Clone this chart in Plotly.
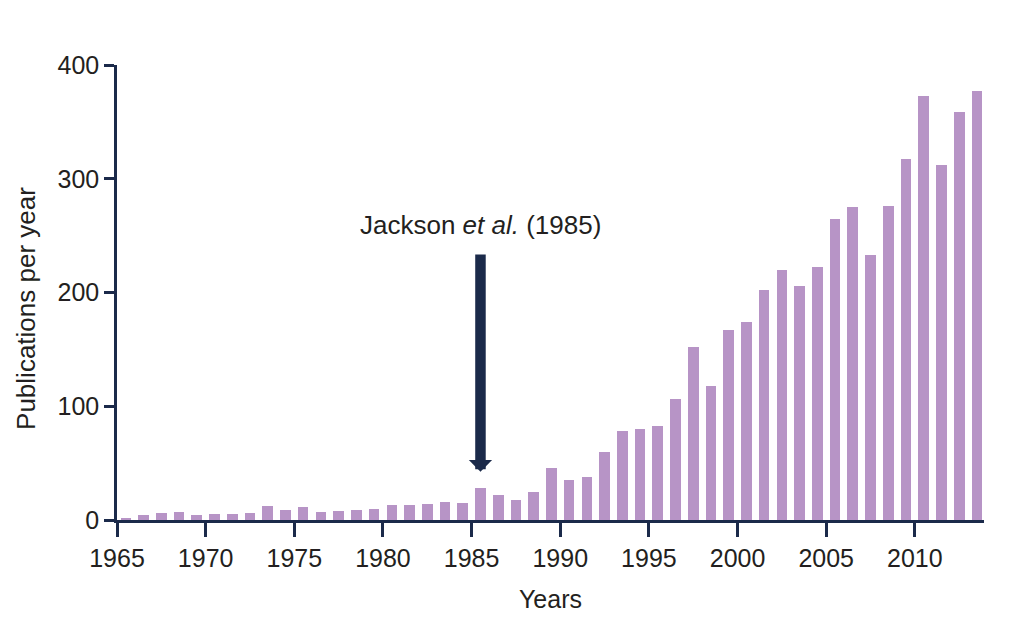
import plotly.graph_objects as go

years = list(range(1965, 2014))
publications = [2, 4, 6, 7, 4, 5, 5, 6, 12, 9,
                 11, 7, 8, 9, 10, 13, 13, 14, 16, 15,
                 28, 22, 18, 25, 46, 35, 38, 60, 78, 80,
                 83, 106, 152, 118, 167, 174, 202, 220, 206, 222,
                 265, 275, 233, 276, 317, 373, 312, 359, 377]
tick_years = [1965, 1970, 1975, 1980, 1985, 1990, 1995, 2000, 2005, 2010]
y_ticks = [0, 100, 200, 300, 400]
event_year = 1985
event_label = "Jackson <i>et al.</i> (1985)"

AXIS = "#1b2a4a"
TEXT = "#231f20"
BAR = "#b794c6"
FONT = "Liberation Sans, Arial, sans-serif"

fig = go.Figure()
fig.add_trace(go.Bar(
    x=years, y=publications,
    width=0.6, offset=0.2,
    marker=dict(color=BAR, line=dict(width=0)),
    hoverinfo="x+y",
))

event_idx = years.index(event_year)
fig.add_annotation(
    x=event_year + 0.5, y=publications[event_idx] + 14.5,
    ax=event_year + 0.5, ay=234.7,
    xref="x", yref="y", axref="x", ayref="y",
    showarrow=True, arrowhead=1, arrowsize=0.37, arrowwidth=10.5,
    arrowcolor=AXIS, text="",
)
fig.add_annotation(
    x=event_year + 0.5, y=259, xref="x", yref="y",
    text=event_label, showarrow=False,
    font=dict(family=FONT, size=26, color=TEXT),
)
fig.add_annotation(
    x=-0.105, y=0.466, xref="paper", yref="paper",
    text="Publications per year", textangle=-90, showarrow=False,
    xanchor="center", yanchor="middle",
    font=dict(family=FONT, size=26, color=TEXT),
)

fig.update_layout(
    width=1024, height=636,
    margin=dict(l=109, r=48, t=57, b=124),
    paper_bgcolor="white", plot_bgcolor="white",
    showlegend=False,
    font=dict(family=FONT, size=25, color=TEXT),
    bargap=0,
)
fig.update_xaxes(
    range=[1965, 2013.9],
    tickmode="array", tickvals=tick_years,
    ticks="outside", ticklen=14, tickwidth=2.5, tickcolor=AXIS,
    showline=True, linecolor=AXIS, linewidth=2.5,
    showgrid=False, zeroline=False,
    tickfont=dict(size=25, color=TEXT),
    title=dict(text="Years", font=dict(size=25, color=TEXT), standoff=20),
)
fig.update_yaxes(
    range=[0, 400],
    tickmode="array", tickvals=y_ticks,
    ticks="outside", ticklen=10, tickwidth=2.5, tickcolor=AXIS,
    showline=True, linecolor=AXIS, linewidth=2.5,
    showgrid=False, zeroline=False,
    tickfont=dict(size=25, color=TEXT),
)

fig.write_html("out.html")
